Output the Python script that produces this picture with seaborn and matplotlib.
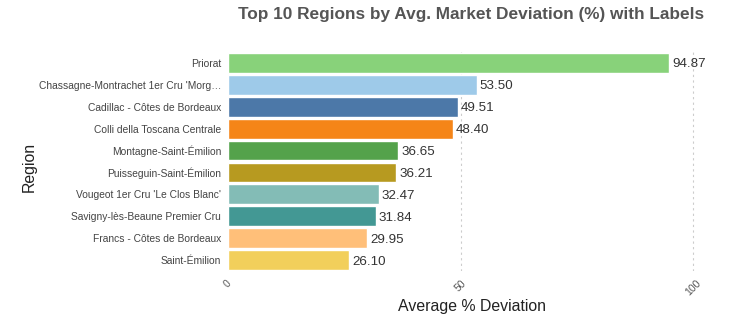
import matplotlib
matplotlib.use("Agg")
import matplotlib.pyplot as plt
import seaborn as sns
import pandas as pd

regions = ["Priorat", "Chassagne-Montrachet 1er Cru 'Morg…", "Cadillac - Côtes de Bordeaux",
           "Colli della Toscana Centrale", "Montagne-Saint-Émilion", "Puisseguin-Saint-Émilion",
           "Vougeot 1er Cru 'Le Clos Blanc'", "Savigny-lès-Beaune Premier Cru",
           "Francs - Côtes de Bordeaux", "Saint-Émilion"]
deviation = [94.87, 53.50, 49.51, 48.40, 36.65, 36.21, 32.47, 31.84, 29.95, 26.10]
colors = ["#88d27a", "#9ecae9", "#4c78a8", "#f58518", "#54a24b",
          "#b79a20", "#83bcb6", "#439894", "#ffbf79", "#f2cf5b"]

df = pd.DataFrame({"Region": regions, "Deviation": deviation})

sns.set_style("white")
plt.rcParams['font.family'] = ['Liberation Sans', 'DejaVu Sans']

fig = plt.figure(figsize=(7.35, 3.24), dpi=100)
ax = fig.add_axes([228/735, 1 - 271/324, (715-228)/735, (271-52)/324])

sns.barplot(data=df, x="Deviation", y="Region", hue="Region", palette=colors,
            legend=False, width=0.9, ax=ax, saturation=1)

for i, v in enumerate(deviation):
    ax.text(v + 0.6, i, f"{v:.2f}", va="center_baseline", ha="left", fontsize=9.6, color="#333333")

ax.set_xlim(0, 104.7)
ax.set_ylim(9.5, -0.5)
ax.set_xticks([0, 50, 100])
ax.set_xticklabels(["0", "50", "100"], rotation=45, ha="center", fontsize=7.5, color="#555555")
ax.tick_params(axis="x", length=4, color="#dddddd", pad=1)
ax.tick_params(axis="y", length=0, labelsize=7.4, labelcolor="#444444", pad=5)
for x in [50, 100]:
    ax.axvline(x, color="#cccccc", linestyle=(0, (2, 3)), linewidth=0.8, zorder=0)
for s in ax.spines.values():
    s.set_visible(False)

ax.set_xlabel("Average % Deviation", fontsize=11.4, color="#222222", labelpad=1)
ax.set_ylabel("Region", fontsize=11.4, color="#222222")
ax.yaxis.set_label_coords(-0.392, 0.477)
fig.text(471/735, 1 - 14/324, "Top 10 Regions by Avg. Market Deviation (%) with Labels",
         ha="center", va="center", fontsize=12.4, fontweight="bold", color="#555555")

fig.savefig("out.png", dpi=100)
